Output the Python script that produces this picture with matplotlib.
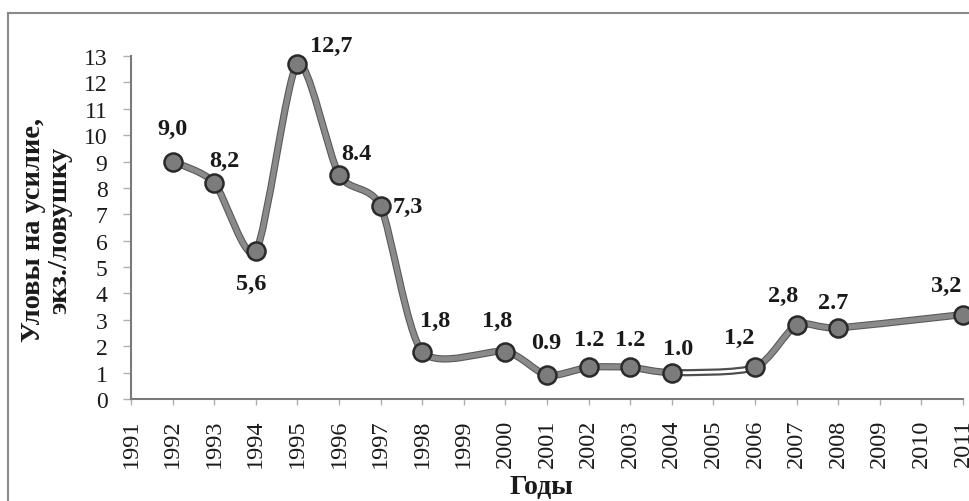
import matplotlib
matplotlib.use("Agg")
import matplotlib.pyplot as plt
import matplotlib.patheffects as pe
from matplotlib.path import Path
from matplotlib.patches import PathPatch
from matplotlib.lines import Line2D

# data
years = [1992, 1993, 1994, 1995, 1996, 1997, 1998, 2000, 2001, 2002, 2003, 2004, 2006, 2007, 2008, 2011]
catch = [9.0, 8.2, 5.6, 12.7, 8.5, 7.3, 1.8, 1.8, 0.9, 1.2, 1.2, 1.0, 1.2, 2.8, 2.7, 3.2]
value_labels = ['9,0', '8,2', '5,6', '12,7', '8.4', '7,3', '1,8', '1,8', '0.9', '1.2', '1.2', '1.0', '1,2', '2,8', '2.7', '3,2']
tick_years = list(range(1991, 2012))
y_ticks = list(range(0, 14))

# label offsets in pixels (dx, dy)
label_offsets = [(0, 33), (10, 22), (-5, -32), (34, 18), (17, 21), (27, 0), (13, 31), (-8, 31),
                 (-1, 33), (1, 28), (0, 28), (6, 24), (-16, 30), (-13, 30), (-5, 25), (-17, 29)]

plt.rcParams['font.family'] = ['Liberation Serif', 'DejaVu Serif']
text_color = '#1a1a1a'


def smooth_segments(xs, ys, tension=1 / 8):
    # Catmull-Rom style bezier segments, like a spreadsheet "smoothed line"
    pts = list(zip(xs, ys))
    n = len(pts)
    segs = []
    for i in range(n - 1):
        p0 = pts[max(i - 1, 0)]
        p1 = pts[i]
        p2 = pts[i + 1]
        p3 = pts[min(i + 2, n - 1)]
        c1 = (p1[0] + (p2[0] - p0[0]) * tension, p1[1] + (p2[1] - p0[1]) * tension)
        c2 = (p2[0] - (p3[0] - p1[0]) * tension, p2[1] - (p3[1] - p1[1]) * tension)
        segs.append([p1, c1, c2, p2])
    return segs


fig = plt.figure(figsize=(9.69, 5.02), dpi=100)
ax = fig.add_axes([131 / 969, 1 - 400 / 502, (963 - 131) / 969, (400 - 57) / 502])

segments = smooth_segments(years, catch)
verts = [segments[0][0]]
codes = [Path.MOVETO]
for seg in segments:
    verts += seg[1:]
    codes += [Path.CURVE4] * 3
curve = PathPatch(Path(verts, codes), facecolor='none', edgecolor='#8a8a8a', lw=3.6,
                  capstyle='round', joinstyle='round', zorder=3, clip_on=False,
                  path_effects=[pe.Stroke(linewidth=5.2, foreground='#5a5a5a'), pe.Normal()])
ax.add_patch(curve)

# the 2004-2006 stretch is drawn hollow in the original
gap = years.index(2004)
seg = segments[gap]
hollow = PathPatch(Path(seg, [Path.MOVETO] + [Path.CURVE4] * 3), facecolor='none',
                   edgecolor='white', lw=2.0, zorder=4,
                   path_effects=[pe.Stroke(linewidth=4.2, foreground='#4a4a4a'), pe.Normal()])
ax.add_patch(hollow)

ax.plot(years, catch, 'o', ms=13, mfc='#7c7c7c', mec='#2a2a2a', mew=1.8, zorder=5, clip_on=False)

for x, y, txt, (dx, dy) in zip(years, catch, value_labels, label_offsets):
    ax.annotate(txt, (x, y), xytext=(dx, dy), textcoords='offset pixels', ha='center', va='center',
                fontsize=17.5, fontweight='bold', color=text_color, zorder=6, annotation_clip=False)

ax.set_xlim(1991, 2011)
ax.set_ylim(0, 13)
ax.set_xticks(tick_years)
ax.set_xticklabels([str(t) for t in tick_years], rotation=90)
ax.set_yticks(y_ticks)

for side in ['top', 'right']:
    ax.spines[side].set_visible(False)
for side in ['left', 'bottom']:
    ax.spines[side].set_color('#7a7a7a')
    ax.spines[side].set_linewidth(1.5)

ax.tick_params(axis='y', direction='out', length=6, width=1, color='#b0b0b0', pad=11,
               labelsize=17, labelcolor=text_color)
ax.tick_params(axis='x', direction='out', length=4, width=1, color='#b0b0b0', pad=10,
               labelsize=17.5, labelcolor=text_color)

fig.text(46.5 / 969, 1 - 230 / 502, 'Уловы на усилие,\nэкз./ловушку', rotation=90,
         ha='center', va='center', fontsize=20.5, fontweight='bold', color=text_color,
         linespacing=1.1)
fig.text(541 / 969, 1 - 488 / 502, 'Годы', ha='center', va='center',
         fontsize=20, fontweight='bold', color=text_color)

# frame around the chart (cut off at right and bottom)
top = 1 - 14 / 502
left = 8 / 969
fig.add_artist(Line2D([left, left], [0, top], transform=fig.transFigure, color='#8a8a8a', lw=1.5))
fig.add_artist(Line2D([left, 1], [top, top], transform=fig.transFigure, color='#8a8a8a', lw=1.5))

fig.savefig('out.png', dpi=100, facecolor='white')
